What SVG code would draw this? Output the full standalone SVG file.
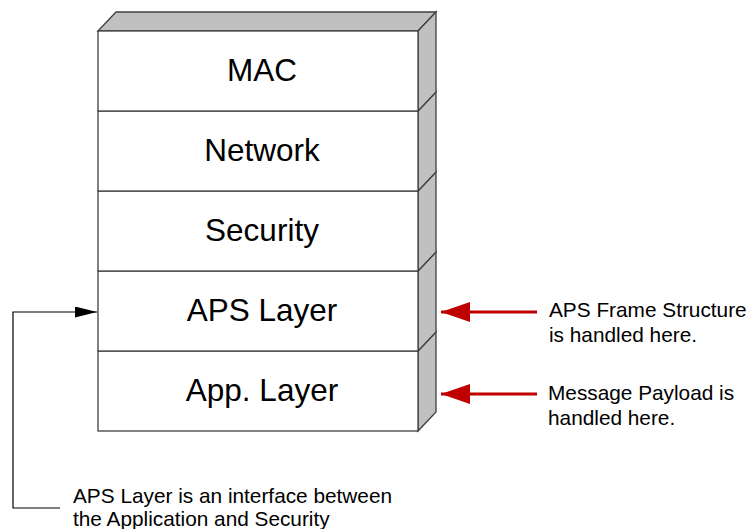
<svg xmlns="http://www.w3.org/2000/svg" width="752" height="529" viewBox="0 0 752 529">
<style>
.front{fill:#ffffff;stroke:#404040;stroke-width:1.3}
.side{fill:#c0c0c0;stroke:#404040;stroke-width:1.3;stroke-linejoin:miter}
.big{font-family:"Liberation Sans",Arial,sans-serif;font-size:31.5px;fill:#000;text-anchor:middle}
.small{font-family:"Liberation Sans",Arial,sans-serif;font-size:20.8px;fill:#000}
.red{stroke:#c00000;stroke-width:3;fill:none}
.blk{stroke:#000;stroke-width:1.2;fill:none}
</style>
<defs>
<marker id="redhead" markerUnits="userSpaceOnUse" markerWidth="30" markerHeight="22" refX="29" refY="10" orient="auto">
<path d="M0,0 L29,10 L0,20 Z" fill="#c00000"/>
</marker>
<marker id="blkhead" markerUnits="userSpaceOnUse" markerWidth="24" markerHeight="12" refX="22" refY="5.5" orient="auto">
<path d="M0,0 L22,5.5 L0,11 Z" fill="#000"/>
</marker>
</defs>
<rect width="752" height="529" fill="#fff"/>
<g id="app-layer">
<path class="side" d="M418,351 L436,332 L436,412 L418,431 Z"/>
<rect class="front" x="98" y="351" width="320" height="80"/>
<text class="big" x="262" y="401">App. Layer</text>
</g>
<g id="aps-layer">
<path class="side" d="M418,271 L436,252 L436,332 L418,351 Z"/>
<rect class="front" x="98" y="271" width="320" height="80"/>
<text class="big" x="262" y="321">APS Layer</text>
</g>
<g id="security">
<path class="side" d="M418,191 L436,172 L436,252 L418,271 Z"/>
<rect class="front" x="98" y="191" width="320" height="80"/>
<text class="big" x="262" y="241">Security</text>
</g>
<g id="network">
<path class="side" d="M418,111 L436,92 L436,172 L418,191 Z"/>
<rect class="front" x="98" y="111" width="320" height="80"/>
<text class="big" x="262" y="161">Network</text>
</g>
<g id="mac">
<path class="side" d="M98,31 L116,12 L436,12 L418,31 Z"/>
<path class="side" d="M418,31 L436,12 L436,92 L418,111 Z"/>
<rect class="front" x="98" y="31" width="320" height="80"/>
<text class="big" x="262" y="81">MAC</text>
</g>
<g id="connectors">
<line class="red" x1="537" y1="312" x2="441" y2="312" marker-end="url(#redhead)"/>
<line class="red" x1="537" y1="394" x2="441" y2="394" marker-end="url(#redhead)"/>
<polyline class="blk" points="60,508 13,508 13,312 97,312" marker-end="url(#blkhead)"/>
</g>
<g id="note-frame">
<text class="small" x="549" y="317">APS Frame Structure</text>
<text class="small" x="549" y="342">is handled here.</text>
</g>
<g id="note-payload">
<text class="small" x="548" y="400">Message Payload is</text>
<text class="small" x="548" y="425">handled here.</text>
</g>
<g id="note-interface">
<text class="small" x="73" y="503">APS Layer is an interface between</text>
<text class="small" x="73" y="526">the Application and Security</text>
</g>
</svg>
